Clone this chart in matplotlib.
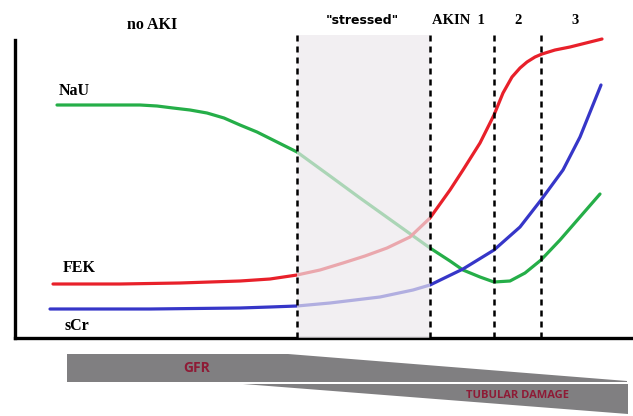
import matplotlib
matplotlib.use("Agg")
import matplotlib.pyplot as plt
from matplotlib.patches import Polygon

# progression along the x axis (arbitrary units) and marker level (arbitrary units)
nau_x = [57, 100, 140, 157, 173, 190, 207, 224, 240, 257, 273, 285, 297, 330, 360, 395, 430,
         450, 463, 480, 494, 510, 525, 541, 560, 580, 600]
nau_y = [233, 233, 233, 232, 230, 228, 225, 220, 213, 206, 198, 192, 186, 162, 140, 115, 90,
         77, 68, 61, 56, 57, 65, 78, 98, 121, 144]

fek_x = [53, 120, 180, 240, 270, 297, 320, 343, 365, 387, 410, 430, 450, 463, 480, 494, 503,
         512, 520, 527, 535, 542, 555, 570, 602]
fek_y = [54, 54, 55, 57, 59, 63, 68, 75, 82, 90, 101, 120, 148, 168, 195, 223, 245,
         261, 270, 276, 281, 284, 288, 291, 299]

scr_x = [50, 150, 240, 270, 297, 330, 355, 380, 413, 430, 463, 494, 520, 541, 563, 580, 601]
scr_y = [29, 29, 30, 31, 32, 35, 38, 41, 48, 53, 69, 88, 111, 138, 168, 201, 253]

stage_edges = [297, 430, 494, 541]
stage_names = ["no AKI", '"stressed"', "AKIN  1", "2", "3"]

W, H = 633, 416
fig = plt.figure(figsize=(W / 100, H / 100), dpi=100)

# main axes: left spine at px 15, bottom spine at px 338, top at px 35
ax = fig.add_axes([15 / W, (H - 338) / H, (W - 15) / W, (338 - 35) / H])
ax.set_xlim(15, 633)
ax.set_ylim(0, 303)
for s in ["top", "right"]:
    ax.spines[s].set_visible(False)
ax.spines["left"].set_linewidth(2.4)
ax.spines["bottom"].set_linewidth(2.4)
ax.spines["left"].set_bounds(0, 298)
ax.set_xticks([])
ax.set_yticks([])

lw = 2.3
ax.plot(nau_x, nau_y, color="#25AE48", lw=lw, solid_capstyle="round",
        solid_joinstyle="round", zorder=2)
ax.plot(fek_x, fek_y, color="#E8202A", lw=lw, solid_capstyle="round",
        solid_joinstyle="round", zorder=2)
ax.plot(scr_x, scr_y, color="#3636C8", lw=lw, solid_capstyle="round",
        solid_joinstyle="round", zorder=2)

# "stressed" zone drawn over the curves so they look faded
ax.axvspan(stage_edges[0], stage_edges[1], color="#ECE8EC", alpha=0.68, lw=0, zorder=3)
for xe in stage_edges:
    ax.axvline(xe, ymin=0, ymax=1, color="black", lw=1.8, ls=(0, (2.4, 2.0)), zorder=4)

# curve labels
lab = dict(family="Liberation Serif", fontweight="bold", fontsize=11.5,
           ha="center", va="center", color="black")
ax.text(74, 338 - 91, "NaU", **lab)
ax.text(79, 338 - 268, "FEK", **lab)
ax.text(77, 338 - 326, "sCr", **lab)

# overlay in pixel space for stage titles and wedges
ov = fig.add_axes([0, 0, 1, 1], facecolor="none")
ov.set_xlim(0, W)
ov.set_ylim(H, 0)
ov.axis("off")

top = dict(family="Liberation Serif", fontweight="bold", fontsize=10.5,
           ha="center", va="center", color="black")
ov.text(152, 25, stage_names[0], family="Liberation Serif", fontweight="bold",
        fontsize=11.5, ha="center", va="center")
ov.text(362, 21, stage_names[1], family="DejaVu Sans", fontweight="bold",
        fontsize=9, ha="center", va="center")
ov.text(458, 20, stage_names[2], **top)
ov.text(518, 20, stage_names[3], **top)
ov.text(575, 20, stage_names[4], **top)

gfr_wedge = [(67, 354), (288, 354), (627, 381), (627, 382), (67, 382)]
tub_wedge = [(243, 384), (628, 384), (628, 414)]
ov.add_patch(Polygon(gfr_wedge, closed=True, color="#807F81", lw=0))
ov.add_patch(Polygon(tub_wedge, closed=True, color="#807F81", lw=0))

ov.text(197, 368, "GFR", family="Open Sans", fontweight="bold", fontsize=10,
        ha="center", va="center", color="#8E1B36")
ov.text(518, 396, "TUBULAR DAMAGE", family="Open Sans", fontweight="bold", fontsize=8,
        ha="center", va="center", color="#8E1B36")

fig.savefig("out.png", dpi=100)
